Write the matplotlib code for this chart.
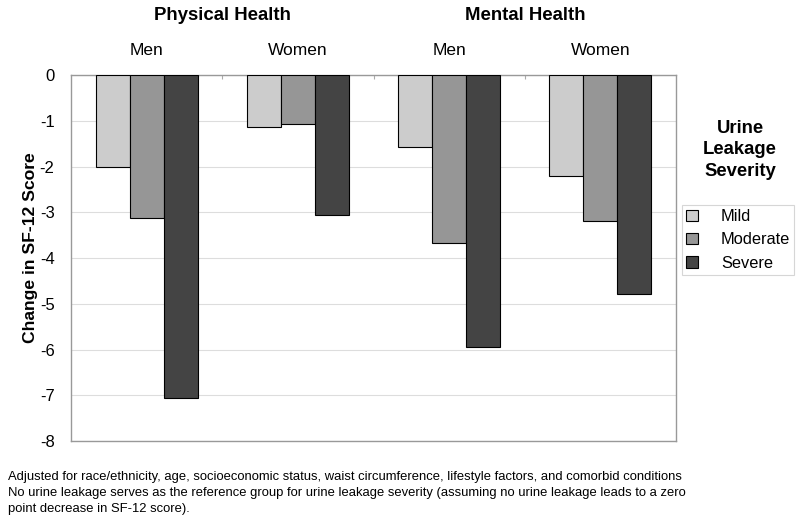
import numpy as np
import matplotlib
matplotlib.use("Agg")
import matplotlib.pyplot as plt

plt.rcParams['font.family'] = ['Liberation Sans', 'DejaVu Sans']
plt.rcParams['axes.unicode_minus'] = False

groups = ['Men', 'Women', 'Men', 'Women']
sections = ['Physical Health', 'Mental Health']
severity = ['Mild', 'Moderate', 'Severe']
mild = [-2.00, -1.13, -1.57, -2.20]
moderate = [-3.12, -1.06, -3.66, -3.18]
severe = [-7.06, -3.06, -5.95, -4.79]
colors = ['#cccccc', '#969696', '#444444']
footnote = ("Adjusted for race/ethnicity, age, socioeconomic status, waist circumference, lifestyle factors, and comorbid conditions\n"
            "No urine leakage serves as the reference group for urine leakage severity (assuming no urine leakage leads to a zero\n"
            "point decrease in SF-12 score).")

fig = plt.figure(figsize=(8, 5.22), dpi=100)
ax = fig.add_axes([0.089, 0.155, 0.756, 0.701])

x = np.arange(len(groups))
w = 0.225
for i, vals in enumerate([mild, moderate, severe]):
    ax.bar(x + (i - 1) * w, vals, w, color=colors[i], edgecolor='black',
           linewidth=0.8, label=severity[i], zorder=3)

ax.set_xlim(-0.5, 3.5)
ax.set_ylim(-8, 0)
ax.set_yticks(range(-8, 1))
ax.yaxis.grid(True, color='#dddddd', linewidth=0.8, zorder=0)
ax.tick_params(axis='y', length=0, labelsize=12, pad=12)
ax.xaxis.tick_top()
ax.set_xticks([0.5, 1.5, 2.5])
ax.set_xticklabels([])
ax.tick_params(axis='x', direction='in', length=3, color='#aaaaaa')
for s in ax.spines.values():
    s.set_color('#999999')
    s.set_linewidth(1)

for xi, g in zip(x, groups):
    ax.text(xi, 0.55, g, ha='center', va='center', fontsize=12.5)
for k, sec in enumerate(sections):
    ax.text(0.5 + 2 * k, 1.3, sec, ha='center', va='center', fontsize=13.4,
            fontweight='bold')

ax.set_ylabel('Change in SF-12 Score', fontsize=12.6, fontweight='bold', labelpad=6)
ax.yaxis.set_label_coords(-0.055, 0.53)

fig.text(0.925, 0.713, 'Urine\nLeakage\nSeverity', ha='center', va='center',
         fontsize=13.3, fontweight='bold', linespacing=1.37)
leg = fig.legend(loc='upper left', bbox_to_anchor=(0.853, 0.607), frameon=True,
                 fancybox=False, edgecolor='#cccccc', fontsize=11.8,
                 handlelength=0.7, handleheight=0.7, handletextpad=1.4,
                 borderpad=0.25, labelspacing=0.5, borderaxespad=0)
leg.get_frame().set_linewidth(0.8)

fig.text(0.01, 0.097, footnote, ha='left', va='top', fontsize=9.4, linespacing=1.42)

fig.savefig('out.png', dpi=100)
